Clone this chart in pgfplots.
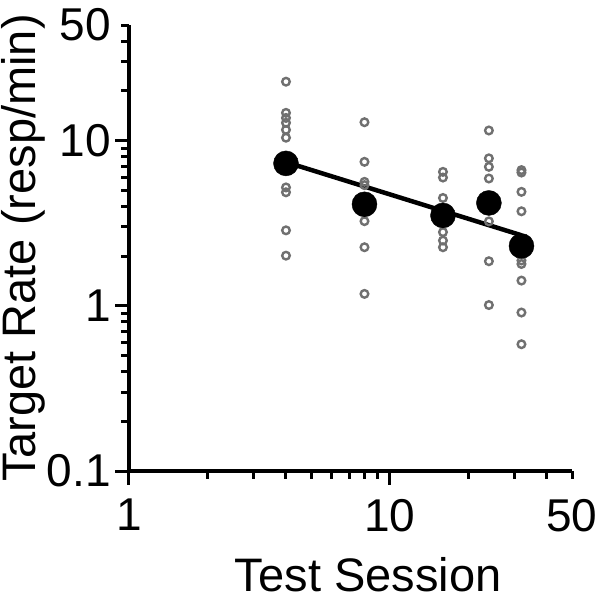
\documentclass[border=0pt]{standalone}
\usepackage{fontspec}
\setmainfont{Liberation Sans}
\usepackage{pgfplots}
\pgfplotsset{compat=1.18}
\definecolor{ptgray}{RGB}{112,112,112}
\pgfplotstableread{
x y
4 22.7
4 14.7
4 13.7
4 12.8
4 11.6
4 10.4
4 5.2
4 4.86
4 2.86
4 2.01
8 12.9
8 7.43
8 5.62
8 5.37
8 3.25
8 2.26
8 1.18
16 6.46
16 5.97
16 4.49
16 2.79
16 2.48
16 2.26
24 11.5
24 7.8
24 6.93
24 5.89
24 3.24
24 1.86
24 1.01
32 6.62
32 6.4
32 4.89
32 3.73
32 1.88
32 1.79
32 1.42
32 0.91
32 0.585
}\individual
\pgfplotstableread{
x y
4 7.27
8 4.11
16 3.52
24 4.19
32 2.30
}\means
\begin{document}
\begin{tikzpicture}
\begin{axis}[
  name=ax,
  xmode=log, ymode=log,
  scale only axis, width=443bp, height=446bp,
  xmin=1, xmax=50, ymin=0.1, ymax=50,
  axis x line*=bottom, axis y line*=left,
  x axis line style={line width=3.5bp, -},
  y axis line style={line width=3.5bp, -},
  xtick={1,10}, xticklabels={1,10},
  extra x ticks={50}, extra x tick labels={50},
  ytick={0.1,1,10}, yticklabels={0.1,1,10},
  extra y ticks={50}, extra y tick labels={50},
  minor xtick={2,3,4,5,6,7,8,9,20,30,40},
  minor ytick={0.2,0.3,0.4,0.5,0.6,0.7,0.8,0.9,2,3,4,5,6,7,8,9,20,30,40},
  tick align=outside,
  major tick length=14bp, minor tick length=8bp,
  every tick/.style={line width=3bp, black},
  extra x tick style={major tick length=8bp, xticklabel style={yshift=-6bp}},
  extra y tick style={major tick length=8bp, yticklabel style={xshift=-6bp}},
  /pgf/number format/assume math mode=true,
  xticklabel style={font=\fontsize{46bp}{50bp}\selectfont, anchor=north, inner sep=0pt, yshift=-14bp},
  yticklabel style={font=\fontsize{46bp}{50bp}\selectfont, anchor=east, inner sep=0pt, xshift=-4bp},
  xlabel={Test Session},
  ylabel={Target Rate (resp/min)},
  xlabel style={font=\fontsize{47bp}{52bp}\selectfont, at={(axis description cs:0.54,-0.271)}, anchor=base, inner sep=0pt},
  ylabel style={font=\fontsize{47bp}{52bp}\selectfont, at={(axis description cs:-0.238,0.5)}, anchor=center, inner sep=0pt},
  clip=false,
]
\addplot[only marks, mark=o, mark size=3.8bp, mark options={line width=2.4bp, draw=ptgray}] table[x=x,y=y] {\individual};
\addplot[line width=4.5bp, black] coordinates {(4,7.4) (32,2.67)};
\addplot[only marks, mark=*, mark size=12.5bp, black] table[x=x,y=y] {\means};
\end{axis}
\pgfresetboundingbox
\path[use as bounding box] ([xshift=-129bp,yshift=-128bp]ax.south west) rectangle ([xshift=28bp,yshift=25bp]ax.north east);
\end{tikzpicture}
\end{document}
